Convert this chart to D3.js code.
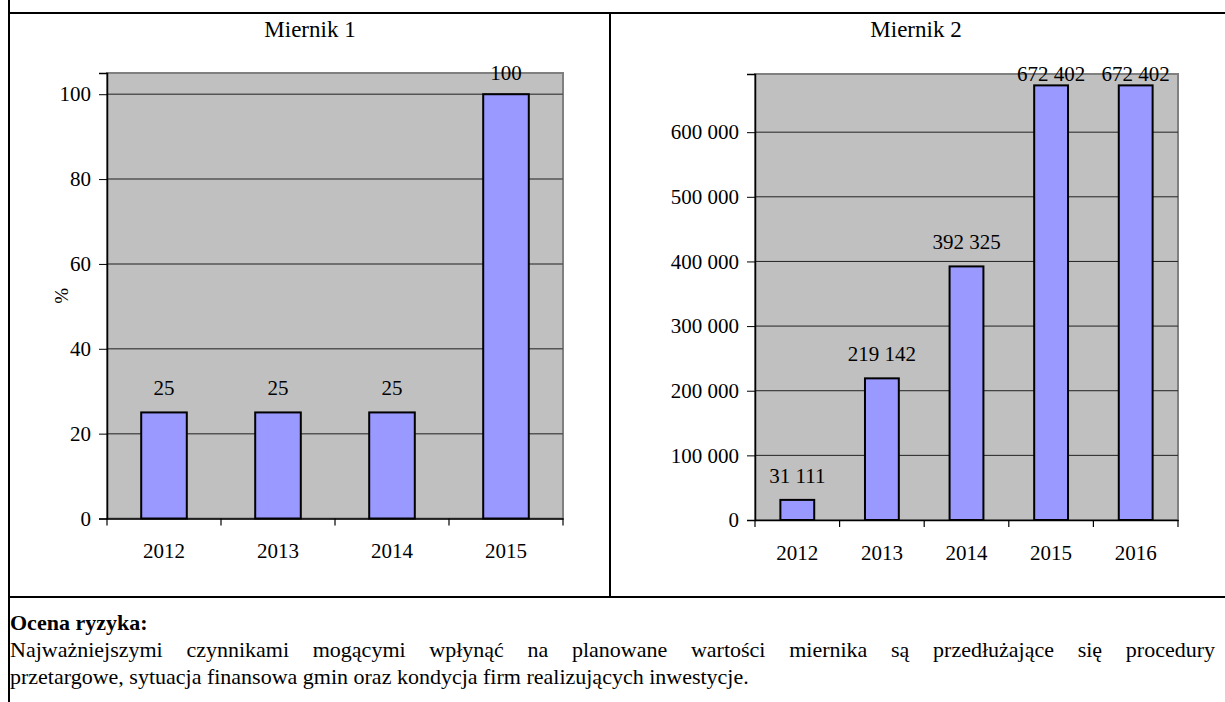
<!DOCTYPE html>
<head>
<meta charset="utf-8">
<style>
  body { margin:0; background:#fff; font-family:"Liberation Serif","Times New Roman",serif; }
  #wrap { position:relative; width:1225px; height:702px; overflow:hidden; }
  svg { position:absolute; left:0; top:0; }
  svg text { font-family:"Liberation Serif","Times New Roman",serif; fill:#000; }
  .txt { position:absolute; left:10px; width:1205px; font-size:22px; line-height:27px; color:#000; }
  .just { text-align:justify; text-align-last:justify; white-space:nowrap; }
</style>
</head>
<script src="https://d3js.org/d3.v7.min.js"></script>

<div id="wrap">
  <div id="my_dataviz"></div>
  <div class="txt" style="top:609px;"><b>Ocena ryzyka:</b></div>
  <div class="txt just" style="top:636px;">Najważniejszymi czynnikami mogącymi wpłynąć na planowane wartości miernika są przedłużające się procedury</div>
  <div class="txt" style="top:663px;">przetargowe, sytuacja finansowa gmin oraz kondycja firm realizujących inwestycje.</div>
</div>

<script>
// data
var years1 = ["2012", "2013", "2014", "2015"];
var values1 = [25, 25, 25, 100];
var ticks1 = [0, 20, 40, 60, 80, 100];

var years2 = ["2012", "2013", "2014", "2015", "2016"];
var values2 = [31111, 219142, 392325, 672402, 672402];
var ticks2 = [0, 100000, 200000, 300000, 400000, 500000, 600000];

var svg = d3.select("#my_dataviz")
  .append("svg")
    .attr("width", 1225)
    .attr("height", 702);

// table frame
svg.append("line").attr("x1", 9).attr("x2", 9).attr("y1", 0).attr("y2", 702)
  .attr("stroke", "#000").attr("stroke-width", 2);
svg.append("line").attr("x1", 9).attr("x2", 1225).attr("y1", 13).attr("y2", 13)
  .attr("stroke", "#000").attr("stroke-width", 2);
svg.append("line").attr("x1", 610).attr("x2", 610).attr("y1", 13).attr("y2", 597)
  .attr("stroke", "#000").attr("stroke-width", 2);
svg.append("line").attr("x1", 9).attr("x2", 1225).attr("y1", 597).attr("y2", 597)
  .attr("stroke", "#000").attr("stroke-width", 2);

var spaceFmt = function(v) { return d3.format(",")(v).replace(/,/g, " "); };

function drawChart(opt) {
  var g = svg.append("g");
  var x = d3.scaleBand().domain(opt.cats).range([opt.left, opt.right]).padding(0);
  var y = d3.scaleLinear().domain([0, opt.ymax]).range([opt.bottom, opt.top]);

  g.append("text")
    .attr("x", opt.cx).attr("y", 37)
    .attr("text-anchor", "middle")
    .style("font-size", "23px")
    .text(opt.title);

  // plot area
  g.append("rect")
    .attr("x", opt.left).attr("y", opt.top)
    .attr("width", opt.right - opt.left).attr("height", opt.bottom - opt.top)
    .attr("fill", "#c0c0c0").attr("stroke", "#808080").attr("stroke-width", 2);

  // gridlines
  g.selectAll(".grid").data(opt.ticks.filter(function(d) { return d > 0; }))
    .enter().append("line")
      .attr("x1", opt.left).attr("x2", opt.right)
      .attr("y1", function(d) { return y(d); }).attr("y2", function(d) { return y(d); })
      .attr("stroke", opt.gridColor).attr("stroke-width", opt.gridWidth);

  // bars
  var bw = x.bandwidth() * 0.4;
  g.selectAll(".bar").data(opt.values)
    .enter().append("rect")
      .attr("x", function(d, i) { return x(opt.cats[i]) + (x.bandwidth() - bw) / 2; })
      .attr("y", function(d) { return y(d); })
      .attr("width", bw)
      .attr("height", function(d) { return y(0) - y(d); })
      .attr("fill", "#9999ff").attr("stroke", "#000").attr("stroke-width", 2);

  // data labels
  g.selectAll(".lbl").data(opt.values)
    .enter().append("text")
      .attr("x", function(d, i) { return x(opt.cats[i]) + x.bandwidth() / 2; })
      .attr("y", function(d) { return Math.max(y(d) - 17, opt.top + 7); })
      .attr("text-anchor", "middle")
      .style("font-size", "21px")
      .text(function(d) { return opt.fmt(d); });

  // y axis
  var ya = d3.axisLeft(y).tickValues(opt.ticks).tickSize(8).tickPadding(8).tickFormat(opt.fmt);
  var yg = g.append("g").attr("transform", "translate(" + opt.left + ",0)").call(ya);
  yg.select(".domain").attr("stroke", "#000").attr("stroke-width", 1.5);
  yg.selectAll(".tick line").attr("stroke", "#000");
  yg.selectAll("text").style("font-size", "21px");

  // x axis
  var xa = d3.axisBottom(x).tickSize(0).tickPadding(25);
  var xg = g.append("g").attr("transform", "translate(0," + opt.bottom + ")").call(xa);
  xg.select(".domain").attr("stroke", "#000").attr("stroke-width", 1.5);
  xg.selectAll("text").style("font-size", "21px");
  // category boundary ticks
  var bounds = opt.cats.map(function(c) { return x(c); }).concat([opt.right]);
  xg.selectAll(".bt").data(bounds).enter().append("line")
    .attr("x1", function(d) { return d; }).attr("x2", function(d) { return d; })
    .attr("y1", 0).attr("y2", 7)
    .attr("stroke", "#000").attr("stroke-width", 1.2);

  if (opt.ylabel) {
    g.append("text")
      .attr("transform", "translate(" + opt.ylx + "," + ((opt.top + opt.bottom) / 2) + ") rotate(-90)")
      .attr("text-anchor", "middle")
      .attr("dy", "0.35em")
      .style("font-size", "19px")
      .text(opt.ylabel);
  }
}

drawChart({
  title: "Miernik 1", cx: 310,
  cats: years1, values: values1, ticks: ticks1, ymax: 105,
  left: 107, right: 563, top: 73, bottom: 518.5,
  gridColor: "#555", gridWidth: 1.5,
  fmt: function(v) { return String(v); },
  ylabel: "%", ylx: 61
});

drawChart({
  title: "Miernik 2", cx: 916,
  cats: years2, values: values2, ticks: ticks2, ymax: 690000,
  left: 755, right: 1178, top: 74, bottom: 520,
  gridColor: "#222", gridWidth: 1,
  fmt: spaceFmt
});
</script>
